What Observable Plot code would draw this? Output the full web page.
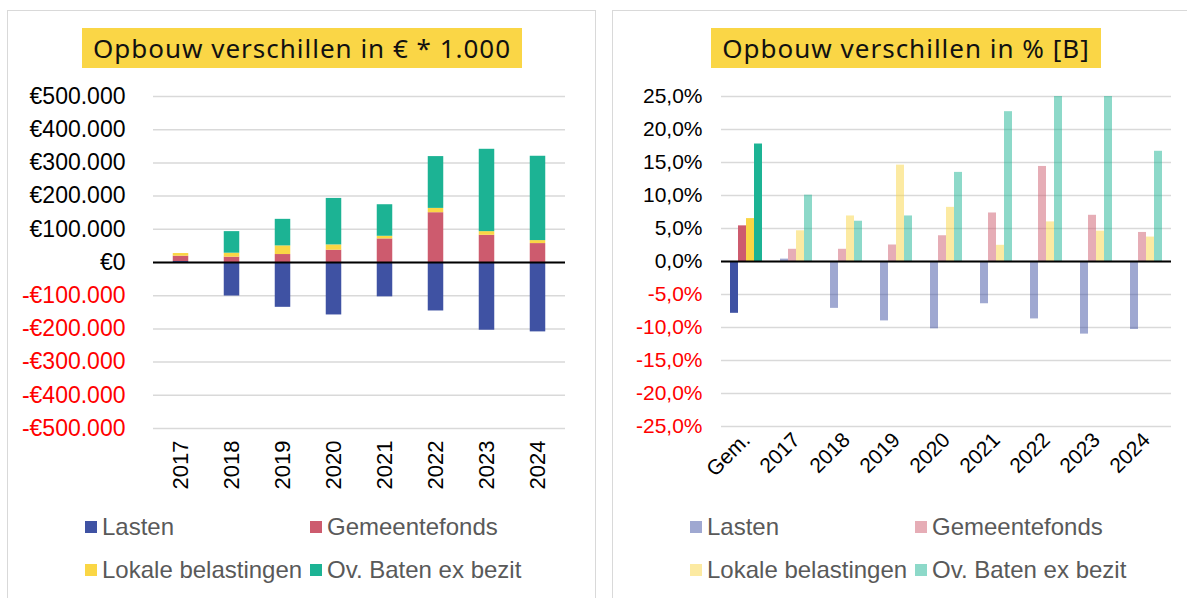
<!DOCTYPE html>
<html><head><meta charset="utf-8">
<script src="https://cdn.jsdelivr.net/npm/d3@7"></script>
<script src="https://cdn.jsdelivr.net/npm/@observablehq/plot@0.6"></script>
<style>
body{margin:0;background:#fff;}
#root{position:relative;width:1187px;height:598px;overflow:hidden;font-family:"Liberation Sans",Arial,sans-serif;background:#fff;}
.panel{position:absolute;border:1.5px solid #d9d9d9;box-sizing:border-box;}
.title{position:absolute;background:#FAD646;font-family:"Noto Sans",sans-serif;font-size:26px;letter-spacing:1px;color:#111;height:40px;line-height:40px;text-align:center;white-space:nowrap;}
.item{position:absolute;white-space:nowrap;display:flex;align-items:center;font-size:24px;color:#595959;height:30px;}
.sw{width:12px;height:12px;margin-right:5px;flex:none;}
.chart{position:absolute;}
</style></head>
<body><div id="root"></div>
<script>
// ---- data ----
const years = ["2017","2018","2019","2020","2021","2022","2023","2024"];
const pctCategories = ["Gem.","2017","2018","2019","2020","2021","2022","2023","2024"];
const seriesNames = ["Lasten","Gemeentefonds","Lokale belastingen","Ov. Baten ex bezit"];
const seriesColors = ["#3F52A3","#CD5B6E","#FAD645","#1CB394"];

// Left chart: euro differences
const lastenEur        = [3000,-101000,-135000,-158000,-103500,-146000,-204000,-209000];
const gemeentefondsEur = [16000,16000,24000,37000,71000,150000,82000,57000];
const lokaleEur        = [8000,12000,26000,16000,8000,13000,11000,9000];
const ovBatenEur       = [0,65000,80000,140000,95000,156000,248000,254000];
const eurTicks = [500000,400000,300000,200000,100000,0,-100000,-200000,-300000,-400000,-500000];

// Right chart: percentage differences
const lastenPct        = [-7.85,0.36,-7.1,-9.0,-10.2,-6.4,-8.7,-11.0,-10.3];
const gemeentefondsPct = [5.4,1.85,1.85,2.5,3.9,7.35,14.4,7.0,4.4];
const lokalePct        = [6.5,4.65,6.9,14.6,8.2,2.45,6.0,4.6,3.7];
const ovBatenPct       = [17.8,10.05,6.1,6.9,13.5,22.7,28,30,16.7];
const pctTicks = [25,20,15,10,5,0,-5,-10,-15,-20,-25];

// ---- build tables ----
const eurSeries = [lastenEur, gemeentefondsEur, lokaleEur, ovBatenEur];
const eurRows = [];
seriesNames.forEach((s,i)=>years.forEach((y,j)=>eurRows.push({year:y, series:s, value:eurSeries[i][j]})));
const pctSeries = [lastenPct, gemeentefondsPct, lokalePct, ovBatenPct];
const pctRows = [];
seriesNames.forEach((s,i)=>pctCategories.forEach((c,j)=>pctRows.push({cat:c, series:s, value:pctSeries[i][j]})));

const fmtEur = d => (d<0?"-":"") + "€" + d3.format(",")(Math.abs(d)).replace(/,/g,".");
const fmtPct = d => d.toFixed(1).replace(".", ",") + "%";

const root = document.getElementById("root");
function el(cls, css, html){const e=document.createElement("div");e.className=cls;Object.assign(e.style,css);if(html!=null)e.innerHTML=html;root.appendChild(e);return e;}

// panels
el("panel",{left:"7px",top:"10px",width:"589px",height:"600px"});
el("panel",{left:"612px",top:"10px",width:"600px",height:"600px"});

// titles
el("title",{left:"82px",top:"28px",width:"440px"},"Opbouw verschillen in € * 1.000");
el("title",{left:"711px",top:"28px",width:"390px"},"Opbouw verschillen in % [B]");

// left chart
const left = Plot.plot({
  width: 588, height: 440,
  marginLeft: 146, marginRight: 30, marginTop: 26, marginBottom: 82,
  style: {fontFamily: "Liberation Sans, Arial, sans-serif", background: "transparent", overflow: "visible"},
  x: {domain: years, padding: 0},
  y: {domain: [-500000, 500000]},
  color: {domain: seriesNames, range: seriesColors},
  marks: [
    Plot.gridY(eurTicks, {stroke: "#d9d9d9", strokeOpacity: 1, strokeWidth: 1.5}),
    Plot.barY(eurRows, {x: "year", y: "value", fill: "series", insetLeft: 17.75, insetRight: 17.75}),
    Plot.ruleY([0], {stroke: "#000", strokeWidth: 2}),
    Plot.axisY(eurTicks.filter(d=>d>=0), {tickSize: 0, tickPadding: 28, tickFormat: fmtEur, fill: "#000", fontSize: 23, label: null}),
    Plot.axisY(eurTicks.filter(d=>d<0), {tickSize: 0, tickPadding: 28, tickFormat: fmtEur, fill: "#ff0000", fontSize: 23, label: null}),
    Plot.axisX({tickRotate: -90, tickSize: 0, tickPadding: 12, fontSize: 22, fill: "#000", label: null})
  ]
});
left.classList.add("chart");
Object.assign(left.style, {left: "7px", top: "70px"});
root.appendChild(left);

// right chart
const gem = pctRows.filter(d => d.cat === "Gem.");
const rest = pctRows.filter(d => d.cat !== "Gem.");
const right = Plot.plot({
  width: 574, height: 440,
  marginLeft: 104, marginRight: 12, marginTop: 26, marginBottom: 84,
  style: {fontFamily: "Liberation Sans, Arial, sans-serif", background: "transparent", overflow: "visible"},
  fx: {domain: pctCategories, padding: 0},
  x: {domain: seriesNames, paddingInner: 0, paddingOuter: 1, axis: null},
  y: {domain: [-25, 25]},
  color: {domain: seriesNames, range: seriesColors},
  marks: [
    Plot.gridY(pctTicks, {stroke: "#d9d9d9", strokeOpacity: 1, strokeWidth: 1.5}),
    Plot.barY(gem, {fx: "cat", x: "series", y: "value", fill: "series", clip: true}),
    Plot.barY(rest, {fx: "cat", x: "series", y: "value", fill: "series", fillOpacity: 0.5, clip: true}),
    Plot.ruleY([0], {stroke: "#000", strokeWidth: 2}),
    Plot.axisY(pctTicks.filter(d=>d>=0), {tickSize: 0, tickPadding: 19, tickFormat: fmtPct, fill: "#000", fontSize: 21, label: null}),
    Plot.axisY(pctTicks.filter(d=>d<0), {tickSize: 0, tickPadding: 19, tickFormat: fmtPct, fill: "#ff0000", fontSize: 21, label: null}),
    Plot.axisFx({anchor: "bottom", tickRotate: -45, tickSize: 0, tickPadding: 10, fontSize: 21, fill: "#000", label: null})
  ]
});
right.classList.add("chart");
Object.assign(right.style, {left: "613px", top: "70px"});
root.appendChild(right);

// legends
function legend(x1, x2, fade){
  const pos = [[x1,512],[x2,512],[x1,555],[x2,555]];
  seriesNames.forEach((s,i)=>{
    const it = el("item",{left:pos[i][0]+"px",top:pos[i][1]+"px"});
    const sw = document.createElement("div"); sw.className="sw";
    sw.style.background = seriesColors[i]; if(fade) sw.style.opacity = 0.5;
    it.appendChild(sw);
    const t = document.createElement("span"); t.textContent = s; it.appendChild(t);
  });
}
legend(85, 310, false);
legend(690, 915, true);
</script>
</body></html>
